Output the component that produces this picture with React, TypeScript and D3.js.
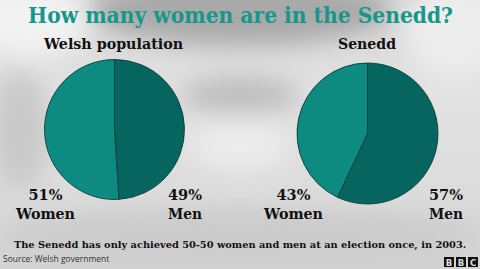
import React from "react";
import * as d3 from "d3";

const W = 480;
const H = 269;

const title = "How many women are in the Senedd?";
const pieTitles = ["Welsh population", "Senedd"];
const categories = ["Men", "Women"];
const menPct = [49, 57];
const womenPct = [51, 43];
const footnote = "The Senedd has only achieved 50-50 women and men at an election once, in 2003.";
const source = "Source: Welsh government";

const colors = { Men: "#07655f", Women: "#0d8b80" };

const pieLayout = [
  { cx: 114.5, cy: 129.5, r: 70, titleX: 113.5, titleW: 139, womenX: 45.5, menX: 185 },
  { cx: 367.5, cy: 133.5, r: 70.5, titleX: 367, titleW: 58, womenX: 293.5, menX: 446 },
];

const serif = "'DejaVu Serif', 'Liberation Serif', serif";

export default function App() {
  const pie = d3
    .pie<number>()
    .sort(null)
    .value((d) => d)
    .startAngle(0)
    .endAngle(2 * Math.PI);

  const label = (x: number, y: number, s: string, w: number) => (
    <text x={x} y={y} textLength={w} lengthAdjust="spacingAndGlyphs">
      {s}
    </text>
  );

  return (
    <svg
      width={W}
      height={H}
      viewBox={`0 0 ${W} ${H}`}
      style={{ position: "absolute", left: 0, top: 0, display: "block" }}
    >
      <defs>
        <filter id="blur" x="-50%" y="-50%" width="200%" height="200%">
          <feGaussianBlur stdDeviation="12" />
        </filter>
        <linearGradient id="bg" x1="0" y1="0" x2="0" y2="1">
          <stop offset="0" stopColor="#d6d6d6" />
          <stop offset="0.35" stopColor="#e2e2e2" />
          <stop offset="0.7" stopColor="#dcdcdc" />
          <stop offset="1" stopColor="#d2d2d2" />
        </linearGradient>
      </defs>
      <rect x={0} y={0} width={W} height={H} fill="url(#bg)" />
      <g filter="url(#blur)">
        <ellipse cx={240} cy={10} rx={150} ry={35} fill="#a9a9a9" />
        <ellipse cx={30} cy={20} rx={60} ry={40} fill="#f2f2f2" />
        <ellipse cx={455} cy={30} rx={50} ry={50} fill="#ededed" />
        <ellipse cx={240} cy={95} rx={60} ry={18} fill="#bdbdbd" />
        <ellipse cx={240} cy={145} rx={50} ry={25} fill="#ececec" />
        <ellipse cx={240} cy={235} rx={240} ry={25} fill="#cbcbcb" />
        <ellipse cx={20} cy={130} rx={30} ry={60} fill="#c9c9c9" />
      </g>

      <text
        x={240.5}
        y={23}
        textAnchor="middle"
        fontFamily={serif}
        fontWeight="bold"
        fontSize={21.5}
        fill="#16978a"
        textLength={425}
        lengthAdjust="spacingAndGlyphs"
      >
        {title}
      </text>

      {pieLayout.map((p, i) => {
        const arcs = pie([menPct[i], womenPct[i]]);
        const arc = d3.arc<d3.PieArcDatum<number>>().innerRadius(0).outerRadius(p.r);
        return (
          <g key={i}>
            <g fontFamily={serif} fontWeight="bold" fontSize={15} fill="#111" textAnchor="middle">
              {label(p.titleX, 49, pieTitles[i], p.titleW)}
            </g>
            <g transform={`translate(${p.cx},${p.cy})`}>
              {arcs.map((a, j) => (
                <path
                  key={j}
                  d={arc(a) || ""}
                  fill={colors[categories[j] as "Men" | "Women"]}
                  stroke="#0a3c39"
                  strokeWidth={0.9}
                />
              ))}
            </g>
            <g fontFamily={serif} fontWeight="bold" fontSize={15.5} fill="#111" textAnchor="middle">
              {label(p.womenX, 200, `${womenPct[i]}%`, 34)}
              {label(p.womenX, 219, "Women", 59)}
              {label(p.menX, 200, `${menPct[i]}%`, 34)}
              {label(p.menX, 219, "Men", 34)}
            </g>
          </g>
        );
      })}

      <text
        x={240}
        y={248}
        textAnchor="middle"
        fontFamily={serif}
        fontWeight="bold"
        fontSize={9.8}
        fill="#111"
      >
        {footnote}
      </text>
      <text x={3} y={262} fontFamily="'Open Sans', 'DejaVu Sans', sans-serif" fontSize={8.5} fill="#333">
        {source}
      </text>

      {["B", "B", "C"].map((l, i) => (
        <g key={i}>
          <rect x={444 + i * 12} y={257} width={10} height={10} fill="#111" />
          <text
            x={449 + i * 12}
            y={265.5}
            textAnchor="middle"
            fontFamily="'DejaVu Sans', sans-serif"
            fontWeight="bold"
            fontSize={8.5}
            fill="#ddd"
          >
            {l}
          </text>
        </g>
      ))}
    </svg>
  );
}
